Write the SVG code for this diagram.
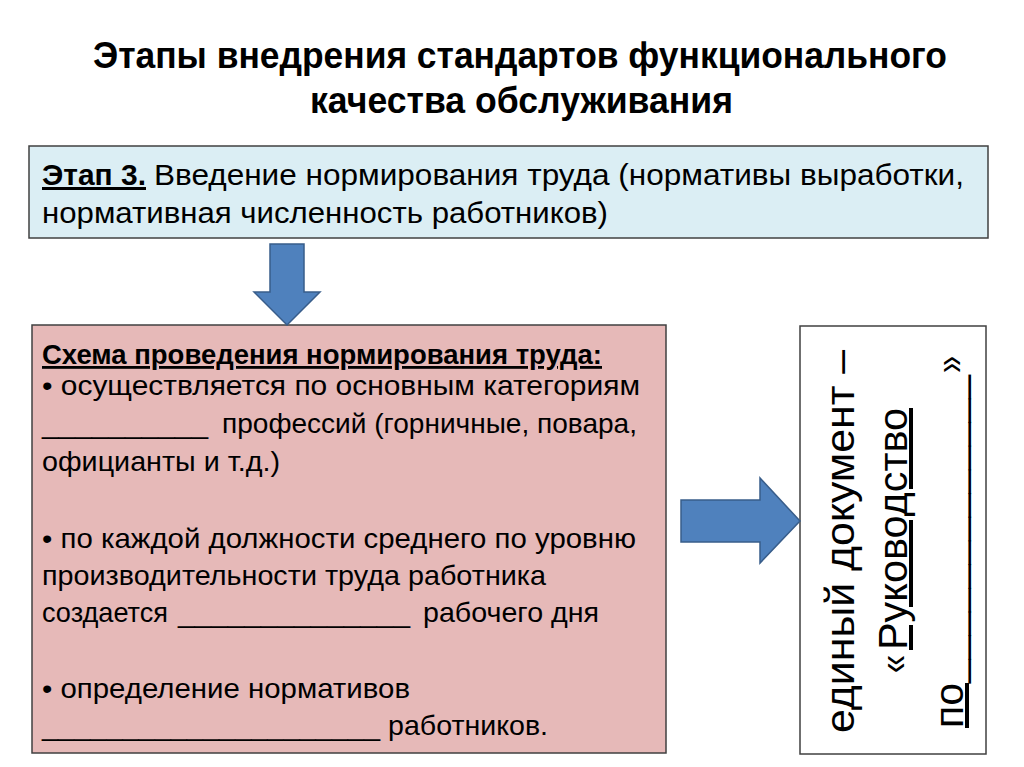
<svg xmlns="http://www.w3.org/2000/svg" width="1024" height="767" viewBox="0 0 1024 767">
<style>
.t{font-family:"Liberation Sans",Arial,sans-serif;fill:#000}
.title{font-size:37px;font-weight:bold}
.top{font-size:30px}
.pk{font-size:28px}
.vt{font-family:"Liberation Sans",Arial,sans-serif;font-size:40px;fill:#000}
.box{stroke:#404040;stroke-width:1.5}
.arr{fill:#4f81bd;stroke:#385d8a;stroke-width:1.5}
</style>
<rect width="1024" height="767" fill="#fff"/>
<g id="title">
<text class="t title" x="93" y="68" textLength="854" lengthAdjust="spacingAndGlyphs">Этапы внедрения стандартов функционального</text>
<text class="t title" x="310" y="113" textLength="423" lengthAdjust="spacingAndGlyphs">качества обслуживания</text>
</g>
<g id="stage3">
<rect class="box" x="29" y="146" width="959" height="92" fill="#dbeef4"/>
<text class="t top" x="42" y="185"><tspan font-weight="bold" text-decoration="underline" textLength="104" lengthAdjust="spacingAndGlyphs">Этап 3.</tspan></text>
<text class="t top" x="154" y="185" textLength="810" lengthAdjust="spacingAndGlyphs">Введение нормирования труда (нормативы выработки,</text>
<text class="t top" x="42" y="223" textLength="566" lengthAdjust="spacingAndGlyphs">нормативная численность работников)</text>
</g>
<g id="scheme">
<rect class="box" x="32" y="325" width="634" height="428" fill="#e6b9b8"/>
<text class="t pk" x="42" y="364" font-weight="bold" text-decoration="underline" textLength="560" lengthAdjust="spacingAndGlyphs">Схема проведения нормирования труда:</text>
<text class="t pk" x="42" y="395" textLength="598" lengthAdjust="spacingAndGlyphs">• осуществляется по основным категориям</text>
<text class="t pk" x="42" y="433" textLength="166" lengthAdjust="spacingAndGlyphs">__________</text>
<text class="t pk" x="222" y="433" textLength="415" lengthAdjust="spacingAndGlyphs">профессий (горничные, повара,</text>
<text class="t pk" x="42" y="471" textLength="238" lengthAdjust="spacingAndGlyphs">официанты и т.д.)</text>
<text class="t pk" x="42" y="548" textLength="594" lengthAdjust="spacingAndGlyphs">• по каждой должности среднего по уровню</text>
<text class="t pk" x="42" y="585" textLength="504" lengthAdjust="spacingAndGlyphs">производительности труда работника</text>
<text class="t pk" x="42" y="622" textLength="126" lengthAdjust="spacingAndGlyphs">создается</text>
<text class="t pk" x="178" y="622" textLength="232" lengthAdjust="spacingAndGlyphs">______________</text>
<text class="t pk" x="423" y="622" textLength="176" lengthAdjust="spacingAndGlyphs">рабочего дня</text>
<text class="t pk" x="42" y="698" textLength="368" lengthAdjust="spacingAndGlyphs">• определение нормативов</text>
<text class="t pk" x="42" y="735" textLength="338" lengthAdjust="spacingAndGlyphs">_____________________</text>
<text class="t pk" x="388" y="735" textLength="160" lengthAdjust="spacingAndGlyphs">работников.</text>
</g>
<g id="document">
<rect class="box" x="800" y="326" width="186" height="428" fill="#fff"/>
<g transform="translate(854,733) rotate(-90)">
<text class="vt" x="0" y="0" textLength="383" lengthAdjust="spacingAndGlyphs">единый документ –</text>
</g>
<g transform="translate(907,673) rotate(-90)">
<text class="vt" x="0" y="0" textLength="18" lengthAdjust="spacingAndGlyphs">«</text>
<text class="vt" x="23" y="0" text-decoration="underline" textLength="242" lengthAdjust="spacingAndGlyphs">Руководство</text>
</g>
<g transform="translate(963,728) rotate(-90)">
<text class="vt" x="0" y="0" text-decoration="underline" textLength="45" lengthAdjust="spacingAndGlyphs">по</text>
<text class="vt" x="45" y="0" textLength="308" lengthAdjust="spacingAndGlyphs">_____________</text>
<text class="vt" x="355" y="0" textLength="17" lengthAdjust="spacingAndGlyphs">»</text>
</g>
</g>
<g id="connectors">
<polygon class="arr" points="270,244 304,244 304,292 320,292 287,325 254,292 270,292"/>
<polygon class="arr" points="681,500 760,500 760,478 800,521 760,563 760,542 681,542"/>
</g>
</svg>
